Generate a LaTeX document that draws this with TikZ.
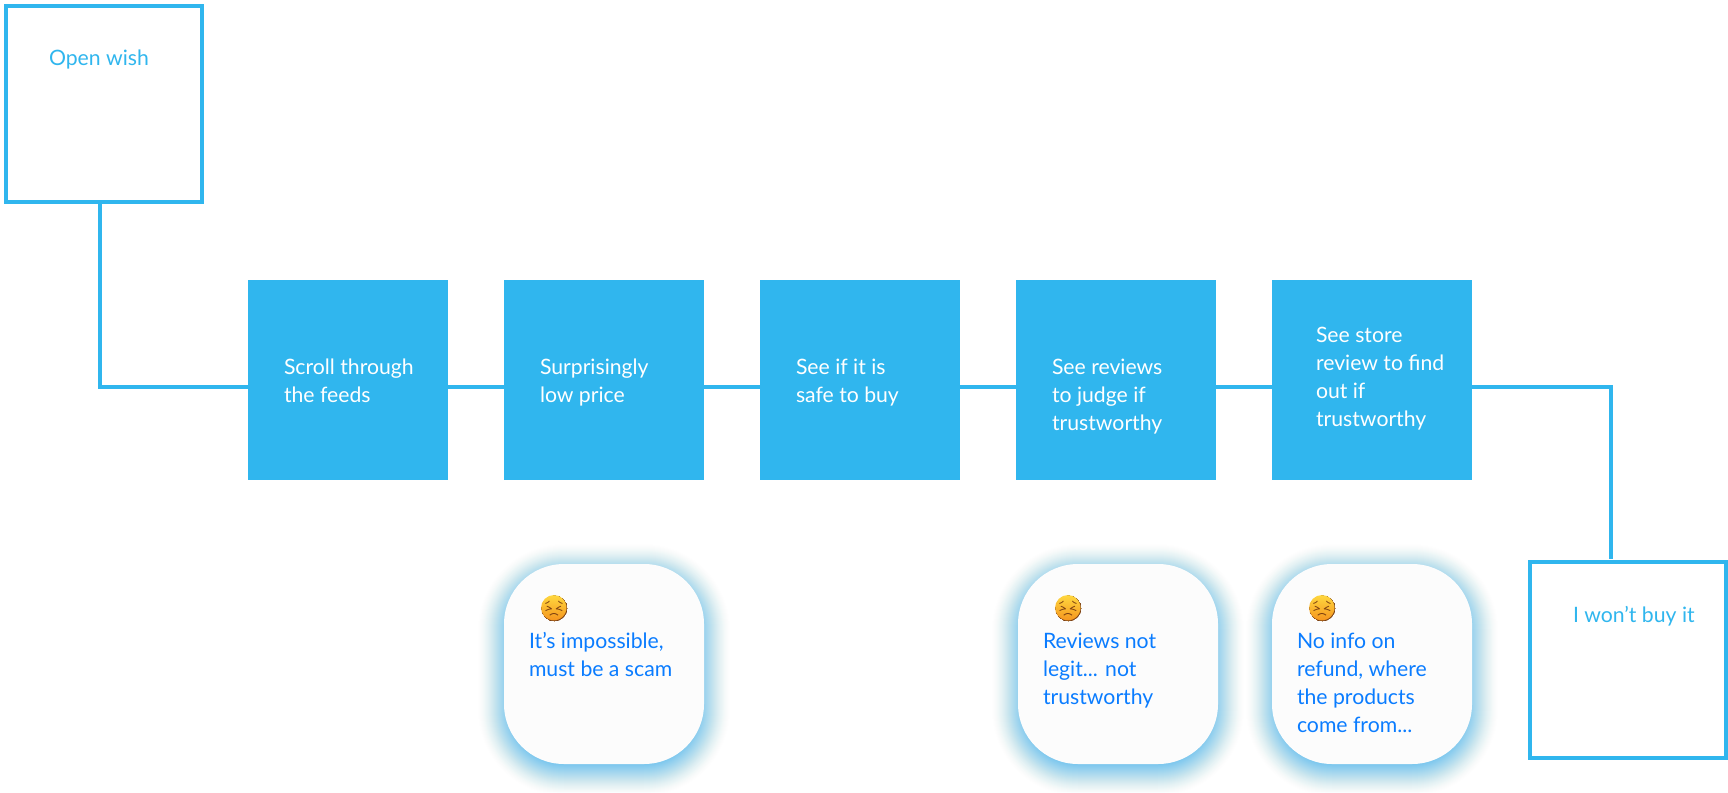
\documentclass[tikz,border=0pt]{standalone}
\usepackage{fontspec}
\setmainfont{Lato}
\newfontfamily\emojifont{Noto Emoji}
\definecolor{sky}{HTML}{30B6EE}
\definecolor{linkblue}{HTML}{0A7CFF}
\definecolor{bubblefill}{HTML}{FCFCFC}
\definecolor{FaceTop}{HTML}{FFD83F}
\definecolor{FaceBot}{HTML}{F5941E}
\definecolor{FaceInk}{HTML}{7A3E10}
\tikzset{
  x=1pt,y=-1pt,
  stepbox/.style={fill=sky,minimum width=200pt,minimum height=200pt,inner sep=0pt,outer sep=0pt,anchor=north west},
  framebox/.style={draw=sky,line width=4pt,fill=white,minimum width=196pt,minimum height=196pt,inner sep=0pt,outer sep=0pt},
  bubble/.style={fill=bubblefill,rounded corners=60pt,minimum width=200pt,minimum height=200pt,inner sep=0pt,outer sep=0pt},
  txt/.style={anchor=base west,align=left,inner sep=0pt,outer sep=0pt,font=\fontsize{21.2}{28}\selectfont},
  steptxt/.style={txt,text=white},
  frametxt/.style={txt,text=sky},
  bubbletxt/.style={txt,text=linkblue},
  link/.style={draw=sky,line width=4pt},
  face/.style={circle,minimum size=26pt,inner sep=0pt,outer sep=0pt,top color=FaceTop,bottom color=FaceBot,
    path picture={\node[text=FaceInk,inner sep=0pt,font=\emojifont\fontsize{27}{27}\selectfont] at (path picture bounding box.center) {😣};}},
}
\newcommand{\glowat}[2]{%
  \foreach \k in {28,27,...,-10}{%
    \pgfmathsetmacro{\op}{0.043*(28-\k)/28}%
    \pgfmathsetmacro{\rr}{max(60+\k,1)}%
    \fill[sky,opacity=\op,rounded corners=\rr pt]
      ({#1-100-\k},{#2-94-\k}) rectangle ({#1+100+\k},{#2+106+\k});
  }%
}
\begin{document}
\begin{tikzpicture}
\useasboundingbox (0,0) rectangle (1728,792);
\fill[white] (0,0) rectangle (1728,792);

% connector waypoints
\coordinate (o1) at (100,204);
\coordinate (s1l) at (248,387);
\coordinate (s1r) at (448,387);
\coordinate (s2l) at (504,387);
\coordinate (s2r) at (704,387);
\coordinate (s3l) at (760,387);
\coordinate (s3r) at (960,387);
\coordinate (s4l) at (1016,387);
\coordinate (s4r) at (1216,387);
\coordinate (s5l) at (1272,387);
\coordinate (s5r) at (1472,387);
\coordinate (e1) at (1611,559);

\glowat{604}{664}\glowat{1118}{664}\glowat{1372}{664}

\draw[link] (o1) |- (s1l);
\draw[link] (s1r) -- (s2l);
\draw[link] (s2r) -- (s3l);
\draw[link] (s3r) -- (s4l);
\draw[link] (s4r) -- (s5l);
\draw[link] (s5r) -| (e1);

\node[framebox] (open) at (104,104) {};
\node[framebox] (nobuy) at (1628,660) {};
\node[frametxt] (opent) at (49,66) {Open wish};
\node[frametxt] (nobuyt) at (1573,622) {I won’t buy it};

\node[stepbox] (s1) at (248,280) {};
\node[stepbox] (s2) at (504,280) {};
\node[stepbox] (s3) at (760,280) {};
\node[stepbox] (s4) at (1016,280) {};
\node[stepbox] (s5) at (1272,280) {};
\node[steptxt] (t1) at (284,402) {Scroll through\\the feeds};
\node[steptxt] (t2) at (540,402) {Surprisingly\\low price};
\node[steptxt] (t3) at (796,402) {See if it is\\safe to buy};
\node[steptxt] (t4) at (1052,430) {See reviews\\to judge if\\trustworthy};
\node[steptxt] (t5) at (1316,426) {See store\\review to find\\out if\\trustworthy};

\node[bubble] (b1) at (604,664) {};
\node[bubble] (b2) at (1118,664) {};
\node[bubble] (b3) at (1372,664) {};
\node[face] (f1) at (554,608) {};
\node[face] (f2) at (1068,608) {};
\node[face] (f3) at (1322,608) {};
\node[bubbletxt] (bt1) at (529,676) {It’s impossible,\\must be a scam};
\node[bubbletxt] (bt2) at (1043,704) {Reviews not\\legit... not\\trustworthy};
\node[bubbletxt] (bt3) at (1297,732) {No info on\\refund, where\\the products\\come from...};
\end{tikzpicture}
\end{document}
